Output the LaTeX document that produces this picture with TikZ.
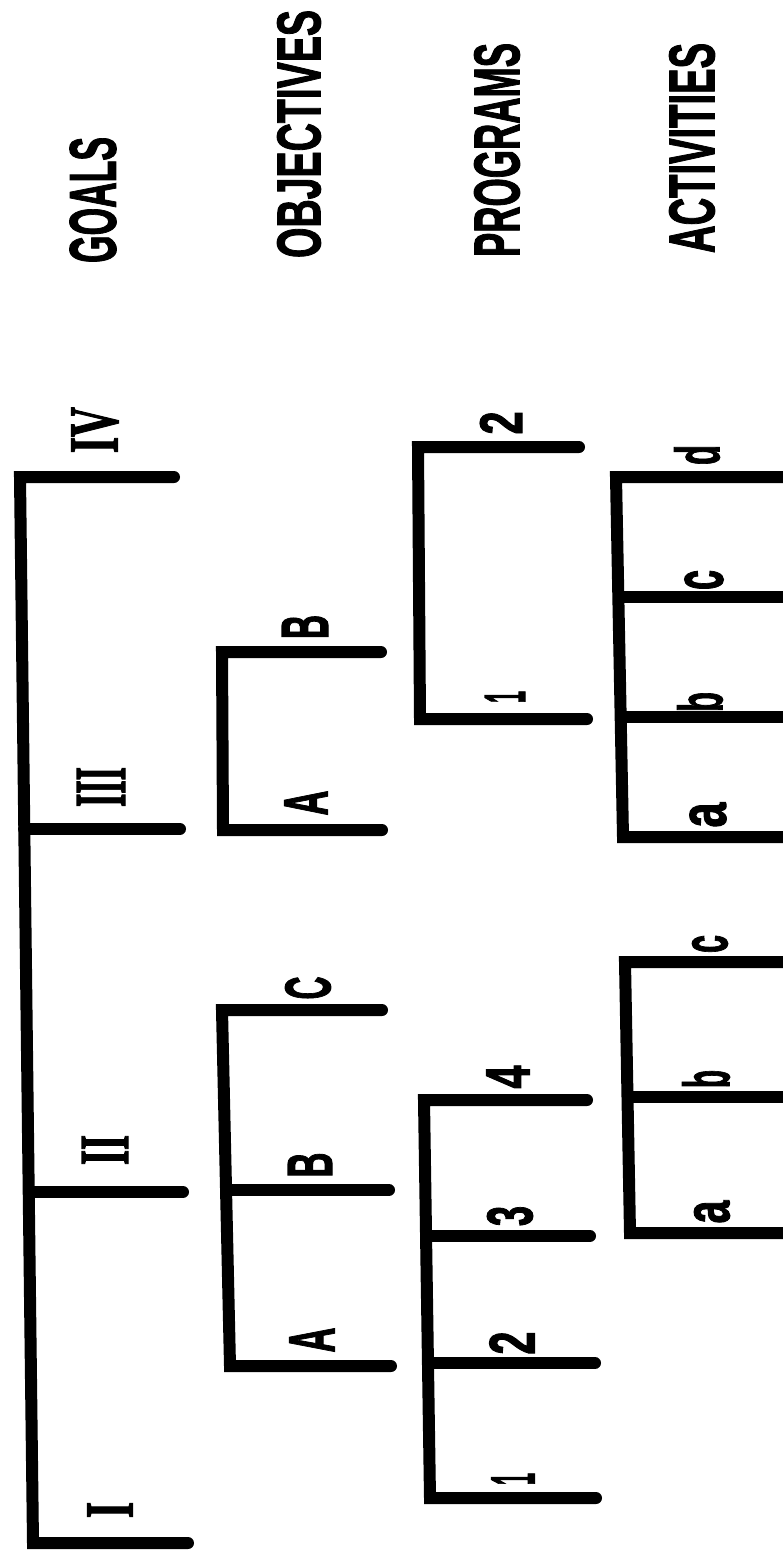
\documentclass[tikz,border=0pt]{standalone}
\usepackage{fontspec}
\usepackage{graphicx}
\setsansfont{Liberation Sans}[BoldFeatures={FakeBold=2}]
\newfontfamily\numfont{Liberation Serif}[BoldFeatures={FakeBold=2}]
\newcommand{\fitbox}[3]{\resizebox{#1pt}{#2pt}{#3}}
\begin{document}
\begin{tikzpicture}[x=1pt,y=-1pt,
  tree/.style={line width=12pt,line cap=round,line join=miter,draw=black},
  lbl/.style={rotate=90,inner sep=0pt,outer sep=0pt,font=\sffamily\bfseries},
  rom/.style={rotate=90,inner sep=0pt,outer sep=0pt,font=\numfont\bfseries}]
\useasboundingbox[fill=white] (0,0) rectangle (783,1552);

% headings
\node[lbl] (hG) at (93,200) {\fitbox{126}{46}{GOALS}};
\node[lbl] (hO) at (299,134) {\fitbox{248}{43}{OBJECTIVES}};
\node[lbl] (hP) at (497,150) {\fitbox{214}{45}{PROGRAMS}};
\node[lbl] (hA) at (692,148) {\fitbox{210}{45}{ACTIVITIES}};

% ---------- goals ----------
\coordinate (gtop) at (20,477);
\coordinate (gbot) at (33,1543);
\coordinate (gIVe) at (174,477);
\coordinate (gIIIj) at (24,829);
\coordinate (gIIIe) at (180,829);
\coordinate (gIIj) at (29,1192);
\coordinate (gIIe) at (183,1192);
\coordinate (gIe) at (188,1543);
\draw[tree] (gIVe) -- (gtop) -- (gbot) -- (gIe);
\draw[tree] (gIIIj) -- (gIIIe);
\draw[tree] (gIIj) -- (gIIe);
\node[rom] (lIV) at (95,430) {\fitbox{46}{46}{IV}};
\node[rom] (lIII) at (101,787) {\fitbox{40}{48}{III}};
\node[rom] (lII) at (105,1150) {\fitbox{30}{46}{II}};
\node[rom] (lI) at (110,1510) {\fitbox{16}{45}{I}};

% ---------- objectives (goal III) ----------
\coordinate (o2top) at (222,652);
\coordinate (o2bot) at (223,830);
\coordinate (o2Be) at (381,652);
\coordinate (o2Ae) at (382,830);
\draw[tree] (o2Be) -- (o2top) -- (o2bot) -- (o2Ae);
\node[lbl] (lo2B) at (305,627) {\fitbox{24}{46}{B}};
\node[lbl] (lo2A) at (306,803) {\fitbox{25}{43}{A}};

% ---------- objectives (goal II) ----------
\coordinate (o1top) at (222,1010);
\coordinate (o1bot) at (230,1366);
\coordinate (o1Ce) at (382,1010);
\coordinate (o1Bj) at (226,1190);
\coordinate (o1Be) at (389,1190);
\coordinate (o1Ae) at (391,1366);
\draw[tree] (o1Ce) -- (o1top) -- (o1bot) -- (o1Ae);
\draw[tree] (o1Bj) -- (o1Be);
\node[lbl] (lo1C) at (308,988) {\fitbox{23}{45}{C}};
\node[lbl] (lo1B) at (310,1165) {\fitbox{25}{44}{B}};
\node[lbl] (lo1A) at (312,1340) {\fitbox{25}{45}{A}};

% ---------- programs (objective B of III) ----------
\coordinate (p2top) at (418,447);
\coordinate (p2bot) at (420,719);
\coordinate (p2e2) at (579,447);
\coordinate (p2e1) at (587,719);
\draw[tree] (p2e2) -- (p2top) -- (p2bot) -- (p2e1);
\node[lbl] (lp22) at (501,423) {\fitbox{23}{42}{2}};
\node[lbl] (lp21) at (505,697) {\fitbox{12}{40}{1}};

% ---------- programs (objective B of II) ----------
\coordinate (p1top) at (424,1100);
\coordinate (p1bot) at (430,1498);
\coordinate (p1e4) at (587,1100);
\coordinate (p1j3) at (427,1236);
\coordinate (p1e3) at (590,1236);
\coordinate (p1j2) at (429,1363);
\coordinate (p1e2) at (595,1363);
\coordinate (p1e1) at (596,1498);
\draw[tree] (p1e4) -- (p1top) -- (p1bot) -- (p1e1);
\draw[tree] (p1j3) -- (p1e3);
\draw[tree] (p1j2) -- (p1e2);
\node[lbl] (lp14) at (508,1077) {\fitbox{23}{43}{4}};
\node[lbl] (lp13) at (510,1216) {\fitbox{20}{45}{3}};
\node[lbl] (lp12) at (512,1343) {\fitbox{23}{45}{2}};
\node[lbl] (lp11) at (513,1479) {\fitbox{12}{43}{1}};

% ---------- activities (program 1 of III-B) ----------
\coordinate (a2top) at (616,477);
\coordinate (a2bot) at (623,837);
\coordinate (a2de) at (792,477);
\coordinate (a2cj) at (619,597);
\coordinate (a2ce) at (792,597);
\coordinate (a2bj) at (621,717);
\coordinate (a2be) at (792,717);
\coordinate (a2ae) at (792,837);
\draw[tree] (a2de) -- (a2top) -- (a2bot) -- (a2ae);
\draw[tree] (a2cj) -- (a2ce);
\draw[tree] (a2bj) -- (a2be);
\node[lbl] (la2d) at (697,455) {\fitbox{20}{45}{d}};
\node[lbl] (la2c) at (704,580) {\fitbox{20}{38}{c}};
\node[lbl] (la2b) at (700,702) {\fitbox{20}{45}{b}};
\node[lbl] (la2a) at (708,815) {\fitbox{25}{36}{a}};

% ---------- activities (program 4 of II-B) ----------
\coordinate (a1top) at (625,962);
\coordinate (a1bot) at (630,1233);
\coordinate (a1ce) at (792,962);
\coordinate (a1bj) at (628,1097);
\coordinate (a1be) at (792,1097);
\coordinate (a1ae) at (792,1233);
\draw[tree] (a1ce) -- (a1top) -- (a1bot) -- (a1ae);
\draw[tree] (a1bj) -- (a1be);
\node[lbl] (la1c) at (710,944) {\fitbox{18}{35}{c}};
\node[lbl] (la1b) at (706,1079) {\fitbox{18}{47}{b}};
\node[lbl] (la1a) at (712,1212) {\fitbox{23}{35}{a}};
\end{tikzpicture}
\end{document}
